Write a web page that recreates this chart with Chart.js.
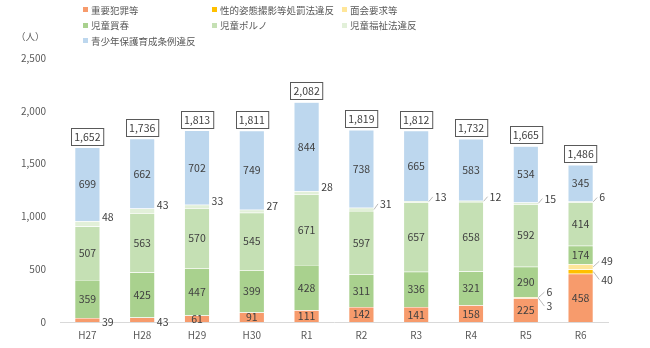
<!DOCTYPE html>
<html lang="ja">
<head>
<meta charset="utf-8">
<script src="https://cdn.jsdelivr.net/npm/chart.js@4.4.1/dist/chart.umd.min.js"></script>
<style>
  body { margin: 0; background: #fff; font-family: "Noto Sans CJK JP", sans-serif; }
  #wrap { position: relative; width: 650px; height: 348px; }
  #legend { position: absolute; left: 83px; top: 2px; display: grid; grid-template-columns: 129px 130px auto; grid-auto-rows: 15.5px; font-size: 9.5px; color: #595959; }
  .item { display: flex; align-items: center; white-space: nowrap; }
  .item i { display: inline-block; width: 5px; height: 5px; margin-right: 3px; }
  #unit { position: absolute; left: 16px; top: 29px; font-size: 9.5px; color: #595959; }
</style>
</head>
<body>
<div id="wrap">
  <canvas id="chart"></canvas>
  <div id="legend"></div>
  <div id="unit">（人）</div>
</div>
<script>
const years = ['H27', 'H28', 'H29', 'H30', 'R1', 'R2', 'R3', 'R4', 'R5', 'R6'];
const seriesNames = ['重要犯罪等', '性的姿態撮影等処罰法違反', '面会要求等', '児童買春', '児童ポルノ', '児童福祉法違反', '青少年保護育成条例違反'];
const seriesColors = ['#F79B6C', '#FFC000', '#FFE699', '#A9D18E', '#C5E0B4', '#E2F0D9', '#BDD7EE'];

const juyoHanzai    = [39, 43, 61, 91, 111, 142, 141, 158, 225, 458];
const seitekiShitai = [0, 0, 0, 0, 0, 0, 0, 0, 3, 40];
const menkaiYokyu   = [0, 0, 0, 0, 0, 0, 0, 0, 6, 49];
const jidoKaishun   = [359, 425, 447, 399, 428, 311, 336, 321, 290, 174];
const jidoPorno     = [507, 563, 570, 545, 671, 597, 657, 658, 592, 414];
const jidoFukushi   = [48, 43, 33, 27, 28, 31, 13, 12, 15, 6];
const seishonen     = [699, 662, 702, 749, 844, 738, 665, 583, 534, 345];
const yTicks = [0, 500, 1000, 1500, 2000, 2500];

const series = [juyoHanzai, seitekiShitai, menkaiYokyu, jidoKaishun, jidoPorno, jidoFukushi, seishonen];
const LEADER_FROM = 5; // from R2 on the small labels get a leader line
const TXT = '#404040';
const FONT = '"Noto Sans CJK JP", sans-serif';

function fmt(n) { return n.toLocaleString('en-US'); }

document.getElementById('legend').innerHTML = seriesNames.map((n, i) =>
  `<div class="item"><i style="background:${seriesColors[i]}"></i>${n}</div>`).join('');

const labelPlugin = {
  id: 'segLabels',
  afterDatasetsDraw(chart) {
    const { ctx } = chart;
    ctx.save();
    ctx.font = `10.5px ${FONT}`;
    ctx.fillStyle = TXT;
    ctx.strokeStyle = '#a6a6a6';
    ctx.lineWidth = 0.8;
    ctx.textBaseline = 'middle';

    const line = (x1, y1, x2, y2) => { ctx.beginPath(); ctx.moveTo(x1, y1); ctx.lineTo(x2, y2); ctx.stroke(); };

    chart.data.datasets.forEach((ds, di) => {
      chart.getDatasetMeta(di).data.forEach((bar, i) => {
        const v = ds.data[i];
        if (!v) return;
        const right = bar.x + bar.width / 2;
        const mid = (bar.y + bar.base) / 2;
        const h = bar.base - bar.y;
        if (di === 5) {
          const ty = bar.y - 4;
          ctx.textAlign = 'left';
          if (i < LEADER_FROM) {
            ctx.fillText(v, right + 2, ty);
          } else {
            line(right, mid, right + 4, ty);
            ctx.fillText(v, right + 6, ty);
          }
        } else if (di === 1 || di === 2) {
          const ty = di === 2 ? mid - 5.5 : mid + 8;
          line(right, mid, right + 6, ty);
          ctx.textAlign = 'left';
          ctx.fillText(v, right + 8, ty);
        } else if (h < 6) {
          ctx.textAlign = 'left';
          ctx.fillText(v, right + 2, mid + 2);
        } else {
          ctx.textAlign = 'center';
          ctx.fillText(v, bar.x, mid);
        }
      });
    });

    // boxed totals on top of each stack
    const topMeta = chart.getDatasetMeta(series.length - 1);
    ctx.textAlign = 'center';
    years.forEach((y, i) => {
      const total = series.reduce((s, arr) => s + arr[i], 0);
      const bar = topMeta.data[i];
      const t = fmt(total);
      const w = ctx.measureText(t).width + 6;
      const bottom = Math.round(bar.y) - 2.5;
      const left = Math.round(bar.x - w / 2) + 0.5;
      ctx.fillStyle = '#fff';
      ctx.fillRect(left, bottom - 17, w, 17);
      ctx.strokeStyle = '#595959';
      ctx.lineWidth = 1;
      ctx.strokeRect(left, bottom - 17, w, 17);
      ctx.fillStyle = TXT;
      ctx.fillText(t, bar.x, bottom - 8);
    });
    ctx.restore();
  }
};

new Chart(document.getElementById('chart'), {
  type: 'bar',
  data: {
    labels: years,
    datasets: series.map((d, i) => ({
      label: seriesNames[i],
      data: d,
      backgroundColor: seriesColors[i],
      borderColor: '#fff',
      borderWidth: 0.5,
      barPercentage: 0.46,
      categoryPercentage: 1
    }))
  },
  options: {
    responsive: true,
    maintainAspectRatio: false,
    animation: false,
    layout: { padding: { top: 58, right: 42, left: 0, bottom: 0 } },
    plugins: { legend: { display: false }, tooltip: { enabled: false } },
    scales: {
      x: {
        stacked: true,
        grid: { display: false, drawTicks: false },
        border: { color: '#d9d9d9' },
        ticks: { padding: 7, color: '#595959', font: { family: FONT, size: 10 } },
        afterFit: s => { s.height = 26; }
      },
      y: {
        stacked: true,
        min: 0,
        max: 2500,
        grid: { display: false, drawTicks: false },
        border: { display: false },
        afterBuildTicks: s => { s.ticks = yTicks.map(v => ({ value: v })); },
        ticks: { padding: 14, color: '#595959', font: { family: FONT, size: 10 }, callback: v => fmt(v) },
        afterFit: s => { s.width = 60; }
      }
    }
  },
  plugins: [labelPlugin]
});
</script>
</body>
</html>
